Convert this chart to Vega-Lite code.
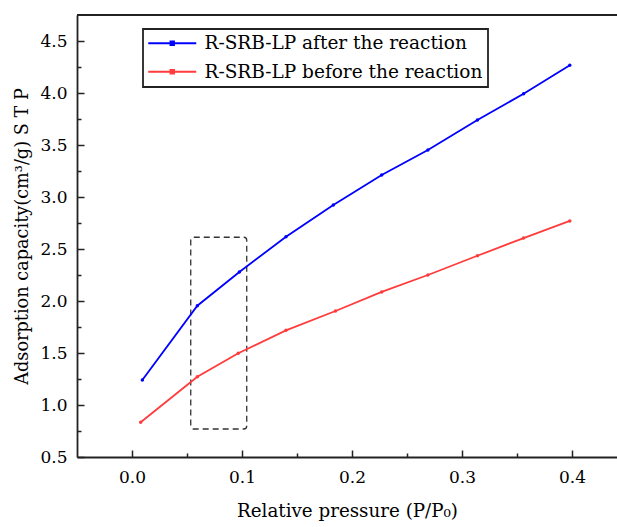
{
  "$schema": "https://vega.github.io/schema/vega-lite/v6.json",
  "width": 540,
  "height": 442,
  "autosize": {"type": "none"},
  "padding": {"left": 77, "top": 15, "right": 0, "bottom": 70},
  "config": {
    "font": "DejaVu Serif",
    "view": {"stroke": null},
    "axis": {
      "labelFont": "DejaVu Serif",
      "titleFont": "DejaVu Serif",
      "labelFontSize": 17,
      "titleFontSize": 17.7,
      "labelColor": "black",
      "titleColor": "black",
      "titleFontWeight": "normal",
      "domainColor": "#222",
      "domainWidth": 1.8,
      "tickColor": "#222",
      "tickWidth": 1.5,
      "grid": false
    },
    "legend": {"labelFont": "DejaVu Serif"}
  },
  "datasets": {
    "curves": [
      {"p": 0.0094, "v": 1.240, "series": "R-SRB-LP after the reaction"},
      {"p": 0.0594, "v": 1.955, "series": "R-SRB-LP after the reaction"},
      {"p": 0.0976, "v": 2.279, "series": "R-SRB-LP after the reaction"},
      {"p": 0.140, "v": 2.618, "series": "R-SRB-LP after the reaction"},
      {"p": 0.183, "v": 2.923, "series": "R-SRB-LP after the reaction"},
      {"p": 0.227, "v": 3.212, "series": "R-SRB-LP after the reaction"},
      {"p": 0.269, "v": 3.452, "series": "R-SRB-LP after the reaction"},
      {"p": 0.314, "v": 3.740, "series": "R-SRB-LP after the reaction"},
      {"p": 0.356, "v": 3.993, "series": "R-SRB-LP after the reaction"},
      {"p": 0.398, "v": 4.266, "series": "R-SRB-LP after the reaction"},
      {"p": 0.0079, "v": 0.834, "series": "R-SRB-LP before the reaction"},
      {"p": 0.0594, "v": 1.272, "series": "R-SRB-LP before the reaction"},
      {"p": 0.0966, "v": 1.497, "series": "R-SRB-LP before the reaction"},
      {"p": 0.140, "v": 1.718, "series": "R-SRB-LP before the reaction"},
      {"p": 0.185, "v": 1.904, "series": "R-SRB-LP before the reaction"},
      {"p": 0.227, "v": 2.087, "series": "R-SRB-LP before the reaction"},
      {"p": 0.269, "v": 2.250, "series": "R-SRB-LP before the reaction"},
      {"p": 0.314, "v": 2.435, "series": "R-SRB-LP before the reaction"},
      {"p": 0.356, "v": 2.605, "series": "R-SRB-LP before the reaction"},
      {"p": 0.398, "v": 2.770, "series": "R-SRB-LP before the reaction"}
    ],
    "box": [
      {"x0": 0.0534, "x1": 0.1043, "y0": 0.769, "y1": 2.613}
    ],
    "top": [
      {"yt": 4.75}
    ]
  },
  "layer": [
    {
      "data": {"name": "box"},
      "mark": {"type": "rect", "fill": null, "stroke": "#333", "strokeWidth": 1.3, "strokeDash": [6, 4], "cornerRadius": 3},
      "encoding": {
        "x": {"field": "x0", "type": "quantitative", "scale": {"domain": [-0.05, 0.4409], "nice": false, "zero": false}, "axis": null},
        "x2": {"field": "x1"},
        "y": {"field": "y0", "type": "quantitative", "scale": {"domain": [0.5, 4.75], "nice": false, "zero": false}, "axis": null},
        "y2": {"field": "y1"}
      }
    },
    {
      "data": {"name": "top"},
      "mark": {"type": "rule", "color": "#222", "strokeWidth": 2},
      "encoding": {
        "y": {"field": "yt", "type": "quantitative", "scale": {"domain": [0.5, 4.75], "nice": false, "zero": false}, "axis": null}
      }
    },
    {
      "data": {"name": "curves"},
      "mark": {"type": "point", "opacity": 0},
      "encoding": {
        "x": {"field": "p", "type": "quantitative", "scale": {"domain": [-0.05, 0.4409], "nice": false, "zero": false},
              "axis": {"orient": "bottom", "values": [0.05, 0.15, 0.25, 0.35], "labels": false, "title": null, "tickSize": -4, "domain": false}},
        "y": {"field": "v", "type": "quantitative", "scale": {"domain": [0.5, 4.75], "nice": false, "zero": false},
              "axis": {"orient": "left", "values": [0.75, 1.25, 1.75, 2.25, 2.75, 3.25, 3.75, 4.25], "labels": false, "title": null, "tickSize": -4, "domain": false}}
      }
    },
    {
      "data": {"name": "curves"},
      "mark": {"type": "line", "strokeWidth": 1.8, "point": {"filled": true, "size": 12}},
      "encoding": {
        "x": {"field": "p", "type": "quantitative", "scale": {"domain": [-0.05, 0.4409], "nice": false, "zero": false},
              "axis": {"orient": "bottom", "values": [0, 0.1, 0.2, 0.3, 0.4], "format": ".1f", "tickSize": -7, "labelPadding": 19, "title": "Relative pressure (P/P₀)", "titleFontSize": 18.3, "titlePadding": 17}},
        "y": {"field": "v", "type": "quantitative", "scale": {"domain": [0.5, 4.75], "nice": false, "zero": false},
              "axis": {"orient": "left", "values": [0.5, 1, 1.5, 2, 2.5, 3, 3.5, 4, 4.5], "format": ".1f", "tickSize": -7, "labelPadding": 17, "title": "Adsorption capacity(cm³/g) S T P", "titlePadding": 8}},
        "color": {
          "field": "series", "type": "nominal",
          "scale": {"domain": ["R-SRB-LP after the reaction", "R-SRB-LP before the reaction"], "range": ["#0000ff", "#ff3b3b"]},
          "legend": {
            "orient": "none", "legendX": 66, "legendY": 14, "title": null,
            "symbolType": "M-1.5,0H6.5M2.2,-0.3H2.8V0.3H2.2Z", "symbolSize": 144, "symbolStrokeWidth": 1.8,
            "labelFont": "DejaVu Serif",
            "labelFontSize": 18.5, "labelColor": "black", "labelOffset": 38, "labelLimit": 0,
            "rowPadding": 9.5, "padding": 5, "strokeColor": "#222", "fillColor": "white",
            "encode": {
              "legend": {"update": {"strokeWidth": {"value": 1.8}}},
              "symbols": {"update": {"fill": {"scale": "color", "field": "value"}}}
            }
          }
        }
      }
    }
  ],
  "resolve": {"axis": {"x": "independent", "y": "independent"}}
}
